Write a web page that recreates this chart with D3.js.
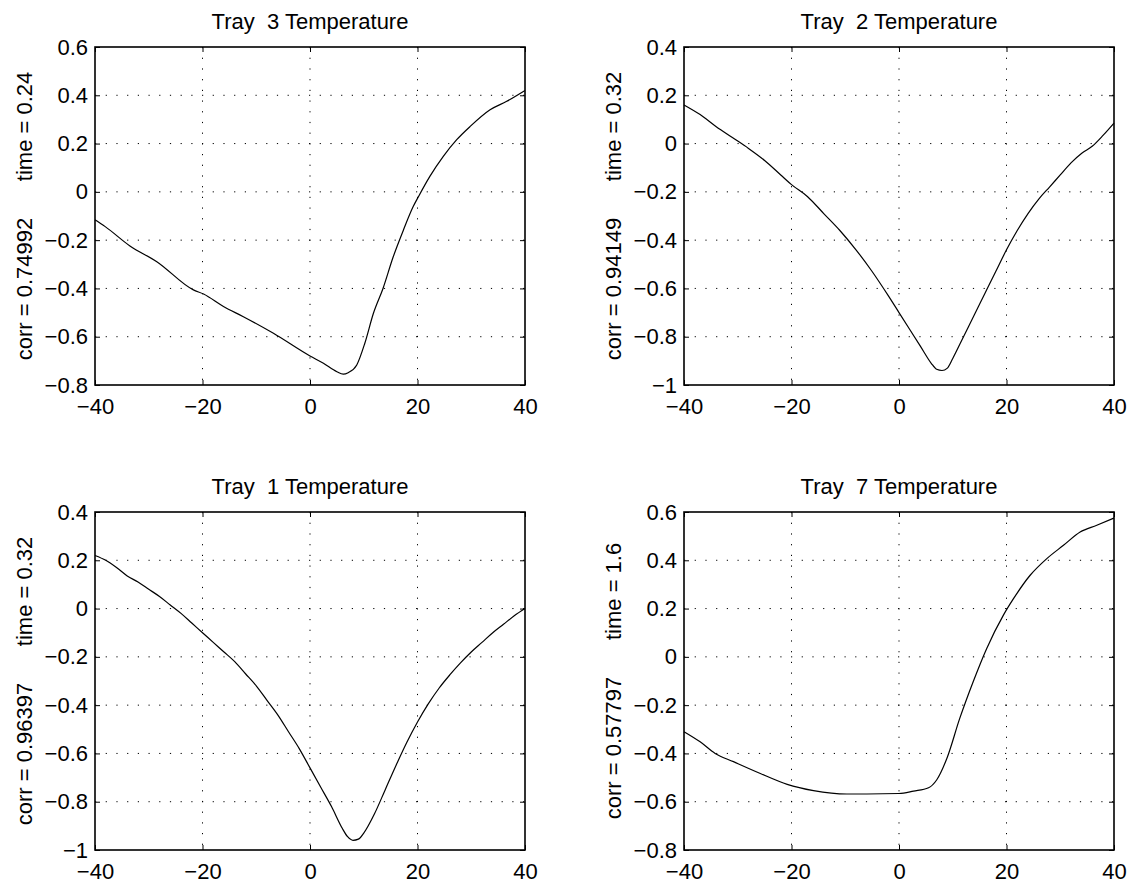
<!DOCTYPE html>
<html>
<head>
<meta charset="utf-8">
<script src="https://cdn.jsdelivr.net/npm/d3@7"></script>
<style>
  body { margin: 0; background: #fff; }
  svg text { font-family: "Liberation Sans", Arial, Helvetica, sans-serif; fill: #000; }
</style>
</head>
<body>
<svg id="fig" width="1133" height="884"></svg>
<script>
// Cross-correlation of each tray temperature against the lag (samples)
const lagTicks = [-40, -20, 0, 20, 40];

const tray3Lag = [-40, -38.1, -33.5, -28.5, -21.7, -19.8, -16.1, -12.4, -6.8, 0, 2.5, 5, 6.2, 7.1, 8.7, 10.2, 11.8, 13.6, 15.5, 17.4, 19.2, 20.2, 22.3, 24.8, 27.3, 29.8, 33.5, 36.6, 40];
const tray3Corr = [-0.116, -0.144, -0.224, -0.289, -0.406, -0.423, -0.475, -0.517, -0.586, -0.680, -0.710, -0.745, -0.755, -0.749, -0.717, -0.627, -0.503, -0.399, -0.268, -0.157, -0.061, -0.019, 0.064, 0.147, 0.216, 0.271, 0.340, 0.375, 0.420];

const tray2Lag = [-40, -37, -34, -31, -28, -25, -22, -20, -17, -14, -11, -8, -5, -2, 0, 2, 4, 6, 7, 8, 9, 10, 12, 14, 16, 18, 20, 22, 24, 26, 28, 30, 32, 34, 36, 38, 40];
const tray2Corr = [0.16, 0.12, 0.07, 0.025, -0.02, -0.07, -0.13, -0.17, -0.22, -0.29, -0.36, -0.44, -0.53, -0.63, -0.70, -0.77, -0.84, -0.91, -0.935, -0.94, -0.93, -0.89, -0.80, -0.71, -0.62, -0.53, -0.44, -0.36, -0.29, -0.23, -0.18, -0.13, -0.08, -0.04, -0.01, 0.035, 0.085];

const tray1Lag = [-40, -38, -36, -34, -32, -30, -28, -26, -24, -22, -20, -18, -16, -14, -12, -10, -8, -6, -4, -2, 0, 2, 4, 6, 7, 8, 9, 10, 12, 14, 16, 18, 20, 22, 24, 26, 28, 30, 32, 34, 36, 38, 40];
const tray1Corr = [0.22, 0.20, 0.17, 0.135, 0.11, 0.08, 0.05, 0.015, -0.02, -0.06, -0.10, -0.14, -0.18, -0.22, -0.27, -0.32, -0.38, -0.44, -0.51, -0.58, -0.66, -0.74, -0.82, -0.91, -0.945, -0.96, -0.955, -0.93, -0.85, -0.75, -0.65, -0.555, -0.47, -0.395, -0.33, -0.275, -0.225, -0.18, -0.14, -0.10, -0.065, -0.03, 0.0];

const tray7Lag = [-40, -37, -34.2, -30.8, -25.8, -20.8, -15.9, -9.7, -6, 0, 2.7, 5.5, 7, 8.9, 11.3, 13.8, 16.3, 19.4, 21.3, 24.4, 27.5, 30.6, 33.7, 36.8, 40];
const tray7Corr = [-0.310, -0.352, -0.400, -0.434, -0.483, -0.528, -0.554, -0.568, -0.568, -0.566, -0.556, -0.542, -0.510, -0.421, -0.255, -0.103, 0.034, 0.172, 0.241, 0.338, 0.407, 0.462, 0.517, 0.545, 0.575];

const yTicksA = [-0.8, -0.6, -0.4, -0.2, 0, 0.2, 0.4, 0.6];
const yTicksB = [-1, -0.8, -0.6, -0.4, -0.2, 0, 0.2, 0.4];

const titles = ["Tray  3 Temperature", "Tray  2 Temperature", "Tray  1 Temperature", "Tray  7 Temperature"];
const corrLabels = ["0.74992", "0.94149", "0.96397", "0.57797"];
const timeLabels = ["0.24", "0.32", "0.32", "1.6"];

const panels = [
  { lag: tray3Lag, corr: tray3Corr, yTicks: yTicksA, col: 0, row: 0 },
  { lag: tray2Lag, corr: tray2Corr, yTicks: yTicksB, col: 1, row: 0 },
  { lag: tray1Lag, corr: tray1Corr, yTicks: yTicksB, col: 0, row: 1 },
  { lag: tray7Lag, corr: tray7Corr, yTicks: yTicksA, col: 1, row: 1 }
];

const colLeft = [95, 684];
const rowTop = [47, 512];
const W = 430, H = 338;
const tickLen = 5;
const fontPx = 22;

const fmt = v => String(v).replace("-", "\u2212");
const svg = d3.select("#fig");

panels.forEach((p, i) => {
  const g = svg.append("g").attr("transform", `translate(${colLeft[p.col]},${rowTop[p.row]})`);
  const x = d3.scaleLinear().domain([-40, 40]).range([0, W]);
  const y = d3.scaleLinear().domain(d3.extent(p.yTicks)).range([H, 0]);

  // dotted grid
  const grid = g.append("g").attr("stroke", "#000").attr("stroke-width", 1)
    .attr("stroke-dasharray", "1.2,9.5");
  grid.selectAll(".vg").data(lagTicks.slice(1, -1)).join("line")
    .attr("x1", d => x(d)).attr("x2", d => x(d)).attr("y1", 0).attr("y2", H);
  grid.selectAll(".hg").data(p.yTicks.slice(1, -1)).join("line")
    .attr("x1", 0).attr("x2", W).attr("y1", d => y(d)).attr("y2", d => y(d));

  // inward ticks on all four sides
  const axB = d3.axisBottom(x).tickValues(lagTicks).tickSizeInner(-tickLen).tickSizeOuter(0).tickPadding(13).tickFormat(fmt);
  const axT = d3.axisTop(x).tickValues(lagTicks).tickSizeInner(-tickLen).tickSizeOuter(0).tickFormat("");
  const axL = d3.axisLeft(y).tickValues(p.yTicks).tickSizeInner(-tickLen).tickSizeOuter(0).tickPadding(7).tickFormat(fmt);
  const axR = d3.axisRight(y).tickValues(p.yTicks).tickSizeInner(-tickLen).tickSizeOuter(0).tickFormat("");

  const styleAxis = sel => {
    sel.select(".domain").remove();
    sel.selectAll(".tick line").attr("stroke", "#000").attr("stroke-width", 1);
    sel.selectAll(".tick text").attr("font-size", fontPx).attr("fill", "#000")
      .style("font-family", '"Liberation Sans", Arial, Helvetica, sans-serif');
  };
  g.append("g").attr("transform", `translate(0,${H})`).call(axB).call(styleAxis);
  g.append("g").call(axT).call(styleAxis);
  g.append("g").call(axL).call(styleAxis);
  g.append("g").attr("transform", `translate(${W},0)`).call(axR).call(styleAxis);

  // box
  g.append("rect").attr("x", 0).attr("y", 0).attr("width", W).attr("height", H)
    .attr("fill", "none").attr("stroke", "#000").attr("stroke-width", 1.6);

  // correlation curve
  const pts = p.lag.map((l, k) => [l, p.corr[k]]);
  g.append("path").datum(pts)
    .attr("fill", "none").attr("stroke", "#000").attr("stroke-width", 1.2)
    .attr("d", d3.line().x(d => x(d[0])).y(d => y(d[1])).curve(d3.curveMonotoneX));

  // title
  g.append("text").attr("x", W / 2).attr("y", -18).attr("text-anchor", "middle")
    .attr("font-size", fontPx).style("white-space", "pre").text(titles[i]);

  // y label
  g.append("text").attr("transform", `translate(${-63},${H / 2}) rotate(-90)`)
    .attr("text-anchor", "middle").attr("font-size", fontPx).style("white-space", "pre")
    .text(`corr = ${corrLabels[i]}      time = ${timeLabels[i]}`);
});
</script>
</body>
</html>
